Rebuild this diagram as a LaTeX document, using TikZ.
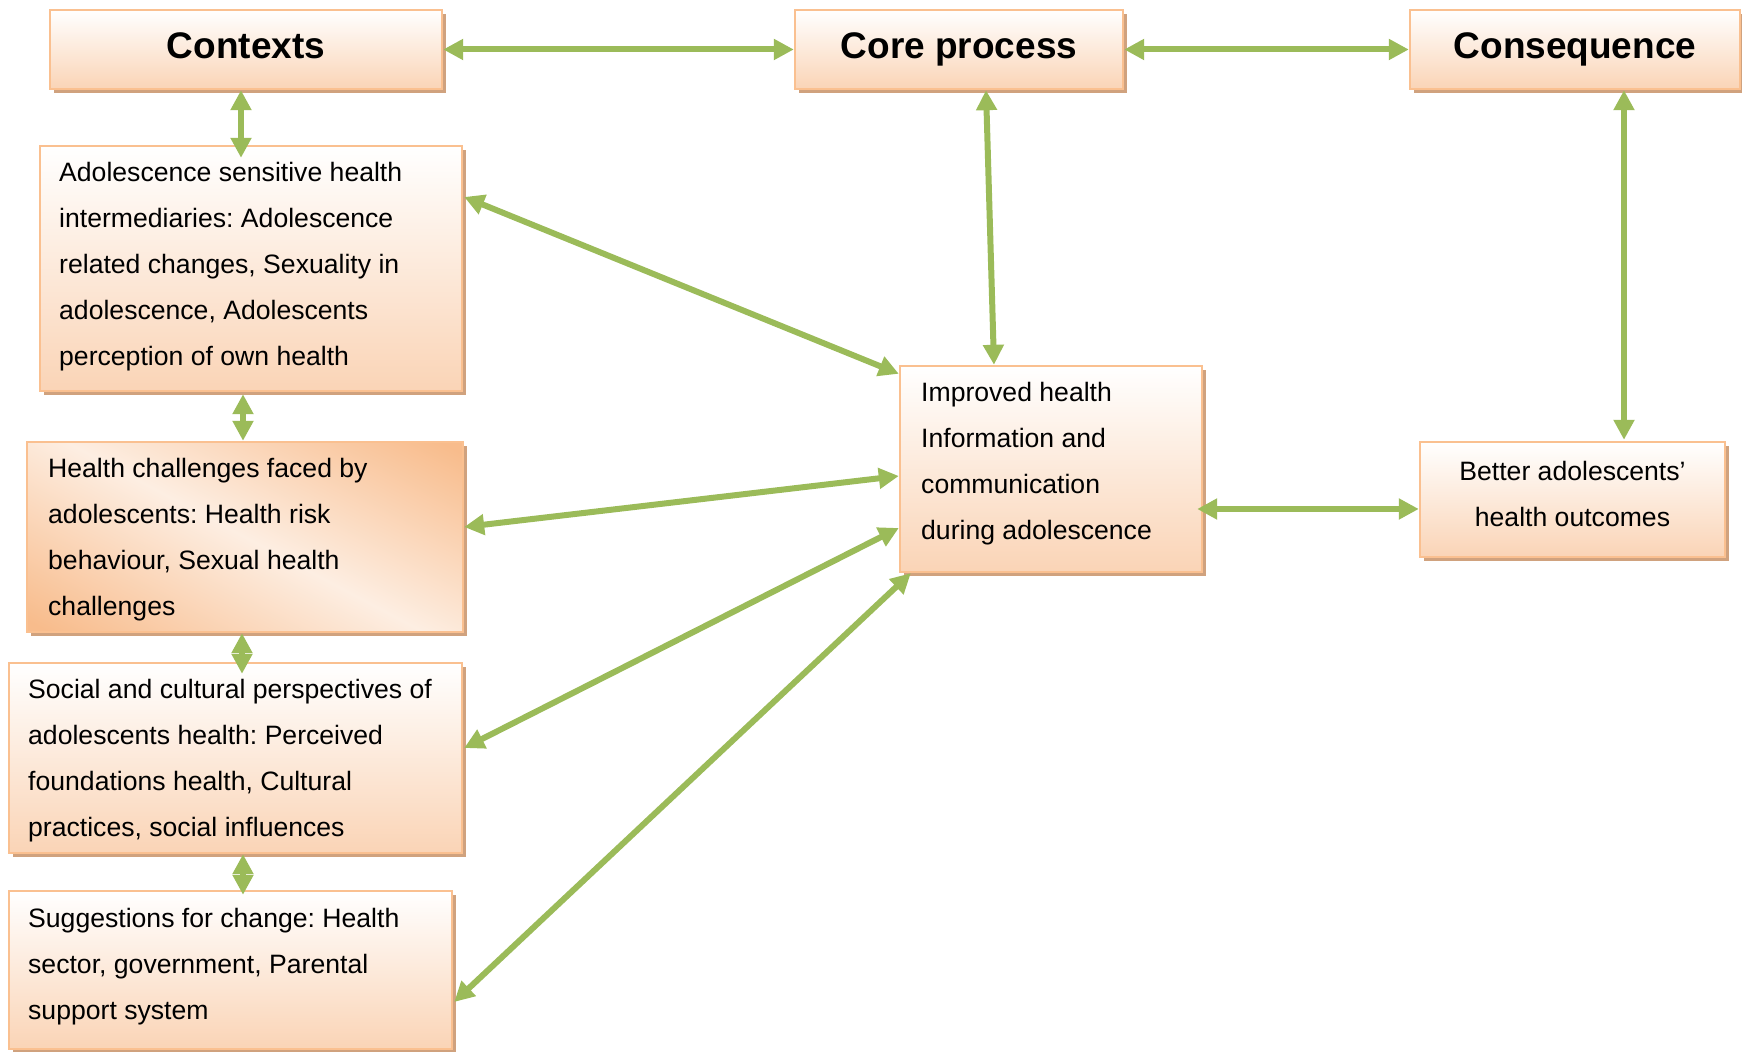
\documentclass[tikz,border=0pt]{standalone}
\usepackage{fontspec}
\setmainfont{Liberation Sans}
\usetikzlibrary{arrows.meta,shadows,calc}
\definecolor{grn}{RGB}{155,187,89}
\definecolor{peach}{RGB}{250,212,182}
\definecolor{bord}{RGB}{250,192,144}
\definecolor{shad}{RGB}{208,162,126}
\definecolor{dk}{RGB}{248,188,140}
\definecolor{lt}{RGB}{253,238,226}
\pgfdeclarehorizontalshading{hchshade}{100bp}{color(0bp)=(dk); color(18bp)=(dk); color(50bp)=(lt); color(82bp)=(dk); color(100bp)=(dk)}
\begin{document}
\frenchspacing
\begin{tikzpicture}[x=0.5pt,y=-0.5pt,
 box/.style={draw=bord, line width=1.2pt, top color=white, bottom color=peach, rectangle, inner sep=0pt,
   drop shadow={shadow xshift=2pt, shadow yshift=-2pt, fill=shad, opacity=1}},
 hbox/.style={box, shading=hchshade, shading angle=62},
 ttl/.style={font=\fontsize{18.5}{22}\selectfont\bfseries, text height=13.5pt, text depth=4pt},
 txt/.style={font=\fontsize{13.3}{23}\selectfont, align=left, inner sep=0pt, anchor=west},
 ctxt/.style={font=\fontsize{13.3}{23}\selectfont, align=center, inner sep=0pt},
 link/.style={draw=grn, line width=3pt, {Triangle[length=10pt,width=10pt]}-{Triangle[length=10pt,width=10pt]}},
]
\useasboundingbox (0,0) rectangle (1742,1052);
% header boxes
\node[box, ttl, minimum width=196pt, minimum height=39.5pt] (ctx) at (246,49.5) {Contexts};
\node[box, ttl, minimum width=164pt, minimum height=39.5pt] (core) at (959,49.5) {Core process};
\node[box, ttl, minimum width=165pt, minimum height=39.5pt] (cons) at (1575,49.5) {Consequence};
% left column
\node[box, minimum width=211pt, minimum height=122.5pt] (adol) at (251,268.5) {};
\node[txt] (adolt) at ($(adol.west)+(20,-2)$) {Adolescence sensitive health\\intermediaries: Adolescence\\related changes, Sexuality in\\adolescence, Adolescents\\perception of own health};
\node[hbox, minimum width=218pt, minimum height=95pt] (hch) at (245,537) {};
\node[txt] (hcht) at ($(hch.west)+(22,3)$) {Health challenges faced by\\adolescents: Health risk\\behaviour, Sexual health\\challenges};
\node[box, minimum width=226.5pt, minimum height=95pt] (soc) at (235.5,758) {};
\node[txt] (soct) at ($(soc.west)+(20,3)$) {Social and cultural perspectives of\\adolescents health: Perceived\\foundations health, Cultural\\practices, social influences};
\node[box, minimum width=221.5pt, minimum height=79pt] (sug) at (230.5,970) {};
\node[txt] (sugt) at ($(sug.west)+(20,-3)$) {Suggestions for change: Health\\sector, government, Parental\\support system};
% centre and right
\node[box, minimum width=151pt, minimum height=103pt] (imp) at (1051,469) {};
\node[txt] (impt) at ($(imp.west)+(22,-5)$) {Improved health\\Information and\\communication\\during adolescence};
\node[box, minimum width=152.5pt, minimum height=57.5pt] (bet) at (1572.5,499.5) {};
\node[ctxt] (bett) at ($(bet.center)+(0,-6)$) {Better adolescents’\\health outcomes};
% connectors
\draw[link] (ctx.east) -- (core.west);
\draw[link] (core.east) -- (cons.west);
\draw[link] ($(ctx.south)+(-5,0)$) -- ($(adol.north)+(-10,13)$);
\draw[link] ($(core.south)+(27,0)$) -- ($(imp.north)+(-57,0)$);
\draw[link] ($(cons.south)+(49,0)$) -- ($(bet.north)+(51.5,-1)$);
\draw[link] ($(adol.east)+(1,-71.5)$) -- ($(imp.north west)+(0,9)$);
\draw[link] ($(adol.south)+(-8,2)$) -- ($(hch.north)+(-2,0)$);
\draw[link] ($(hch.east)+(0,-10)$) -- ($(imp.west)+(0,7)$);
\draw[link] ($(hch.south)+(-3,0)$) -- ($(soc.north)+(6.5,12)$);
\draw[link] ($(soc.east)+(1,-10)$) -- ($(imp.west)+(0,59)$);
\draw[link] ($(soc.south)+(7.5,0)$) -- ($(sug.north)+(12.5,5)$);
\draw[link] ($(sug.east)+(1,32)$) -- ($(imp.south west)+(12,0)$);
\draw[link] ($(imp.east)+(-6,40)$) -- ($(bet.west)+(0,9.5)$);
\end{tikzpicture}
\end{document}
